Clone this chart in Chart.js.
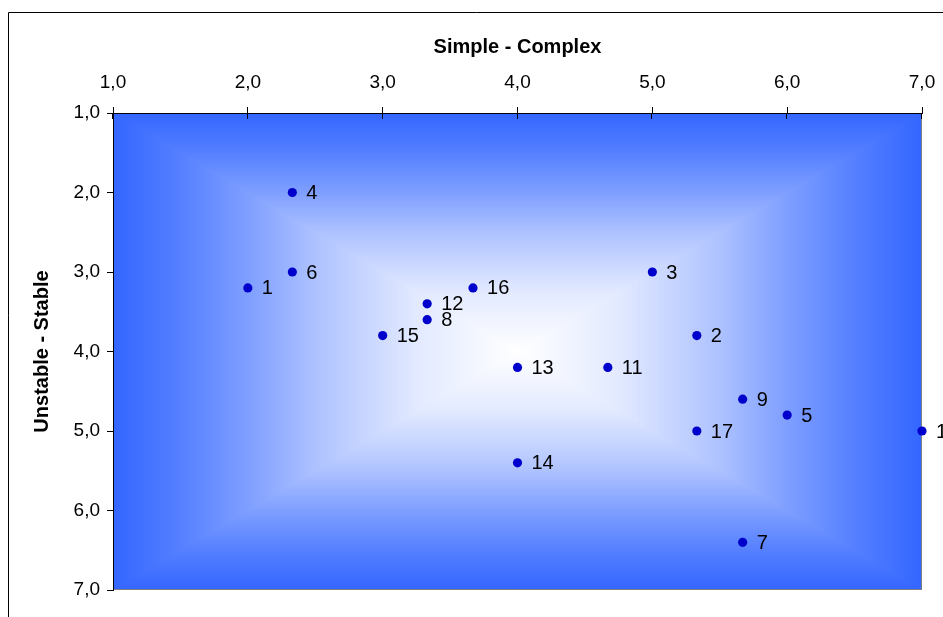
<!DOCTYPE html>
<html>
<head>
<meta charset="utf-8">
<script src="https://cdn.jsdelivr.net/npm/chart.js@4/dist/chart.umd.min.js"></script>
<style>
  html, body { margin: 0; padding: 0; background: #fff; overflow: hidden; }
  #wrap { width: 943px; height: 617px; }
</style>
</head>
<body>
<div id="wrap"><canvas id="mapChart" width="943" height="617"></canvas></div>
<script>
// point ids and their positions on the two dimensions
const pointIds = ["1", "2", "3", "4", "5", "6", "7", "8", "9", "10", "11", "12", "13", "14", "15", "16", "17"];
const simpleComplex = [2.0, 5.33, 5.0, 2.33, 6.0, 2.33, 5.67, 3.33, 5.67, 7.0, 4.67, 3.33, 4.0, 4.0, 3.0, 3.67, 5.33];
const unstableStable = [3.2, 3.8, 3.0, 2.0, 4.8, 3.0, 6.4, 3.6, 4.6, 5.0, 4.2, 3.4, 4.2, 5.4, 3.8, 3.2, 5.0];
const tickValues = [1, 2, 3, 4, 5, 6, 7];
const tickLabels = ["1,0", "2,0", "3,0", "4,0", "5,0", "6,0", "7,0"];

const FONT = "'Liberation Sans', Arial, sans-serif";
const EDGE_RGB = [51, 102, 255];
// share of white by distance from the centre (0) to the edge (1)
const FADE = [[0, 1], [0.25, 0.86], [0.5, 0.6], [0.66, 0.38], [0.83, 0.17], [1, 0]];

function whiteShare(t) {
    for (let k = 1; k < FADE.length; k++) {
        if (t <= FADE[k][0]) {
            const [t0, w0] = FADE[k - 1];
            const [t1, w1] = FADE[k];
            return w0 + (w1 - w0) * (t - t0) / (t1 - t0);
        }
    }
    return 0;
}

function labelFor(v) {
    const i = tickValues.indexOf(v);
    return i < 0 ? "" : tickLabels[i];
}

// rectangular gradient: white in the middle, blue towards every edge
const plotBackground = {
    id: "plotBackground",
    beforeDraw(chart) {
        const ctx = chart.ctx;
        const a = chart.chartArea;
        const L = Math.round(a.left), T = Math.round(a.top);
        const W = Math.round(a.right) - L, H = Math.round(a.bottom) - T;
        const hw = W / 2, hh = H / 2;

        const img = ctx.createImageData(W, H);
        for (let j = 0; j < H; j++) {
            const ty = Math.abs(j + 0.5 - hh) / hh;
            for (let i = 0; i < W; i++) {
                const tx = Math.abs(i + 0.5 - hw) / hw;
                const w = whiteShare(Math.min(1, Math.max(tx, ty)));
                const p = (j * W + i) * 4;
                img.data[p] = EDGE_RGB[0] + (255 - EDGE_RGB[0]) * w;
                img.data[p + 1] = EDGE_RGB[1] + (255 - EDGE_RGB[1]) * w;
                img.data[p + 2] = EDGE_RGB[2] + (255 - EDGE_RGB[2]) * w;
                img.data[p + 3] = 255;
            }
        }
        ctx.putImageData(img, L, T);

        ctx.save();
        // outer frame
        ctx.strokeStyle = "#000";
        ctx.lineWidth = 1;
        ctx.beginPath();
        ctx.moveTo(8.5, chart.height + 2);
        ctx.lineTo(8.5, 12.5);
        ctx.lineTo(chart.width + 2, 12.5);
        ctx.stroke();

        // right and bottom edges of the plot area
        ctx.strokeStyle = "#808080";
        ctx.beginPath();
        ctx.moveTo(L + W - 0.5, T);
        ctx.lineTo(L + W - 0.5, T + H - 0.5);
        ctx.lineTo(L, T + H - 0.5);
        ctx.stroke();
        ctx.restore();
    },
    afterDraw(chart) {
        // x ticks cross the axis line, draw the inner half
        const ctx = chart.ctx;
        const xs = chart.scales.x;
        const top = chart.chartArea.top;
        ctx.save();
        ctx.strokeStyle = "#000";
        ctx.lineWidth = 1;
        xs.ticks.forEach(t => {
            const px = Math.round(xs.getPixelForValue(t.value)) - 0.5;
            ctx.beginPath();
            ctx.moveTo(px, top);
            ctx.lineTo(px, top + 6);
            ctx.stroke();
        });
        ctx.restore();
    }
};

// number next to each point
const pointLabels = {
    id: "pointLabels",
    afterDatasetsDraw(chart) {
        const ctx = chart.ctx;
        const meta = chart.getDatasetMeta(0);
        ctx.save();
        ctx.font = "20px " + FONT;
        ctx.fillStyle = "#000";
        ctx.textAlign = "left";
        ctx.textBaseline = "middle";
        meta.data.forEach((el, i) => {
            ctx.fillText(pointIds[i], el.x + 14, el.y + 1);
        });
        ctx.restore();
    }
};

const points = simpleComplex.map((x, i) => ({ x: x, y: unstableStable[i] }));

new Chart(document.getElementById("mapChart"), {
    type: "scatter",
    data: {
        datasets: [{
            data: points,
            backgroundColor: "#0000CC",
            borderWidth: 0,
            pointRadius: 4.6,
            pointHoverRadius: 4.6,
            clip: false
        }]
    },
    options: {
        responsive: false,
        animation: false,
        devicePixelRatio: 1,
        layout: { padding: { left: 0, top: 0, right: 21, bottom: 27 } },
        plugins: {
            legend: { display: false },
            tooltip: { enabled: false }
        },
        scales: {
            x: {
                type: "linear",
                position: "top",
                min: 1,
                max: 7,
                afterFit(scale) {
                    scale.height = 113;
                    scale.paddingLeft = 0;
                    scale.paddingRight = 0;
                },
                ticks: {
                    stepSize: 1,
                    padding: 13,
                    color: "#000",
                    font: { family: FONT, size: 19 },
                    maxRotation: 0,
                    callback: v => labelFor(v)
                },
                grid: { drawOnChartArea: false, drawTicks: true, tickLength: 6, color: "#000" },
                border: { display: true, color: "#000" },
                title: {
                    display: true,
                    text: "Simple - Complex",
                    color: "#000",
                    font: { family: FONT, size: 20, weight: "bold" },
                    padding: { top: 35, bottom: 0 }
                }
            },
            y: {
                type: "linear",
                reverse: true,
                min: 1,
                max: 7,
                afterFit(scale) {
                    scale.width = 113;
                    scale.paddingTop = 0;
                    scale.paddingBottom = 0;
                },
                ticks: {
                    stepSize: 1,
                    padding: 7,
                    color: "#000",
                    font: { family: FONT, size: 19 },
                    callback: v => labelFor(v)
                },
                grid: { drawOnChartArea: false, drawTicks: true, tickLength: 6, color: "#000" },
                border: { display: true, color: "#000" },
                title: {
                    display: true,
                    text: "Unstable - Stable",
                    color: "#000",
                    font: { family: FONT, size: 20, weight: "bold" },
                    padding: { top: 30, bottom: 0 }
                }
            }
        }
    },
    plugins: [plotBackground, pointLabels]
});
</script>
</body>
</html>
